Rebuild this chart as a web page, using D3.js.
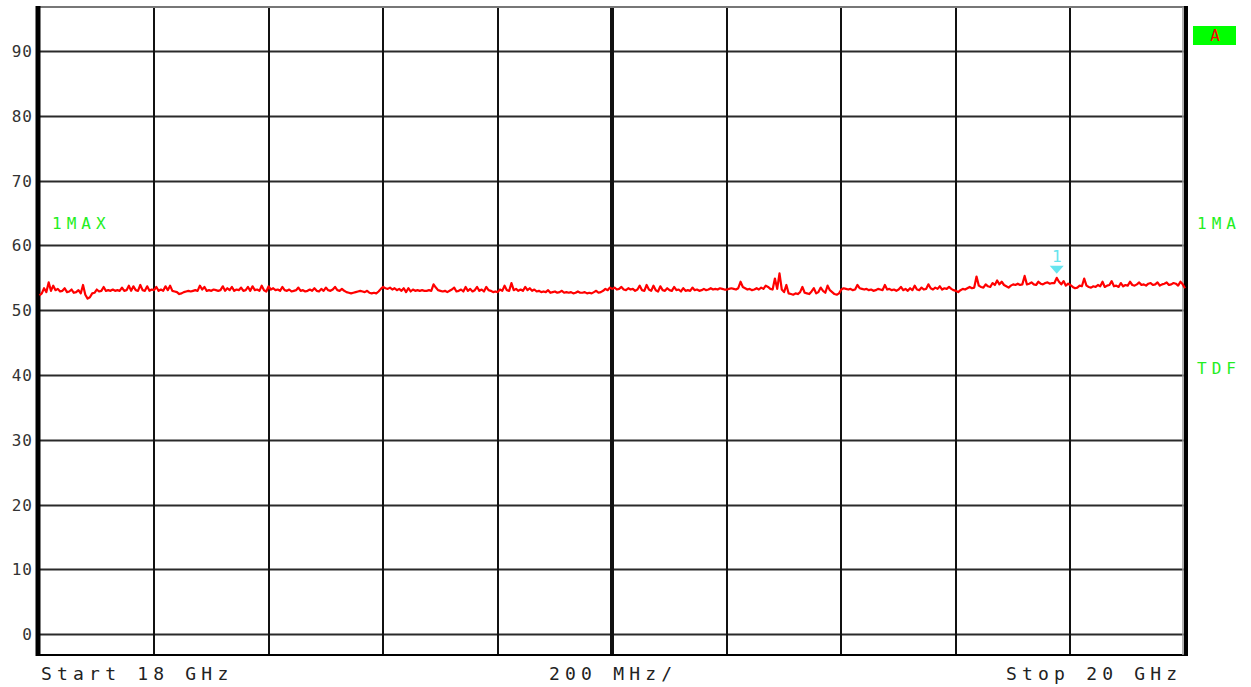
<!DOCTYPE html>
<html><head><meta charset="utf-8">
<script src="https://cdn.jsdelivr.net/npm/d3@7"></script>
<style>
html,body{margin:0;padding:0;background:#fff;}
svg{display:block;}
text{font-family:"DejaVu Sans Mono","Liberation Mono",monospace;}
</style></head>
<body>
<script>
// ---- data ----
const startGHz = 18, stopGHz = 20;
const yTicks = [0,10,20,30,40,50,60,70,80,90];
const xGrid = [18.2,18.4,18.6,18.8,19.0,19.2,19.4,19.6,19.8];
const traceDiv1 = [52.3,52.6,53.4,52.8,54.3,53.0,53.8,53.1,53.3,52.9,53.0,53.4,52.8,52.9,53.2,52.7,52.8,53.1,52.6,53.9,52.4,51.8,52.0,52.6,52.7,53.2,52.9,53.0,53.6,53.0,53.1,53.0,53.2,53.0,53.1,53.0,53.5,53.0,53.1,53.8,53.0,53.7,53.1,53.0,53.9,53.1,53.0,53.7,53.0,53.2];
const traceDiv2 = [53.1,53.6,53.0,53.2,53.0,53.7,53.1,53.8,53.0,52.9,52.8,52.5,52.6,52.8,52.9,53.0,52.9,53.0,53.1,53.0,53.8,53.2,53.6,53.0,53.1,53.0,53.2,53.1,53.0,53.1,53.7,53.0,53.4,53.1,53.6,53.0,53.2,53.1,53.5,53.0,53.1,53.6,53.0,53.7,53.1,53.2,53.0,53.8,53.1,52.9];
const traceDiv3 = [53.7,53.2,53.4,53.1,53.2,53.0,53.6,53.1,53.0,53.2,52.9,53.0,53.1,53.5,53.0,53.1,52.9,53.0,53.2,53.0,53.4,53.0,52.9,53.3,53.0,53.5,53.1,53.0,53.2,53.6,53.1,53.0,53.3,53.0,52.8,52.7,52.6,52.7,52.8,52.9,53.0,52.9,52.8,53.0,52.7,52.6,52.7,52.6,52.9,53.3];
const traceDiv4 = [53.6,53.4,53.3,53.5,53.2,53.4,53.1,53.3,53.0,53.4,52.8,53.4,52.9,53.2,53.0,53.1,53.0,53.1,53.0,53.0,53.1,53.0,54.0,53.5,53.1,53.0,52.9,53.0,52.8,53.0,53.2,53.5,52.9,53.0,53.2,52.9,53.6,53.0,53.3,52.9,53.1,53.6,53.0,53.2,52.9,53.6,53.1,53.0,52.8,52.9];
const traceDiv5 = [52.8,53.2,53.0,53.8,53.1,53.0,54.2,53.1,53.3,53.0,53.2,53.0,53.6,53.1,53.4,53.0,53.2,52.9,53.0,52.8,52.9,52.8,53.1,52.7,52.8,52.9,52.7,52.8,53.0,52.7,52.8,52.7,52.8,52.6,52.7,52.9,52.7,52.7,52.8,52.6,52.7,52.6,52.8,53.0,52.7,52.8,53.0,53.3,53.1,53.5];
const traceDiv6 = [53.3,53.5,53.2,53.3,53.6,53.2,53.1,53.4,53.2,53.3,53.0,53.2,53.8,53.1,53.0,53.9,53.2,53.0,53.8,53.1,52.9,53.7,53.1,53.0,53.4,53.1,53.0,53.6,53.1,53.2,52.9,53.4,53.0,53.1,53.0,53.5,53.1,53.2,53.0,53.1,53.3,53.1,53.2,53.4,53.2,53.3,53.2,53.4,53.3,53.2];
const traceDiv7 = [53.2,53.3,53.4,53.3,53.2,53.4,54.4,53.6,53.4,53.2,53.3,53.1,53.2,53.4,53.2,53.5,53.3,53.8,53.6,53.3,53.2,54.9,53.3,55.7,53.2,52.8,53.9,52.6,52.5,52.4,52.6,52.5,52.8,53.6,52.7,52.6,52.5,52.9,53.4,52.6,52.8,53.5,53.0,52.7,53.8,53.1,52.8,52.5,52.4,52.6];
const traceDiv8 = [53.2,53.4,53.3,53.2,53.3,53.1,53.2,53.9,53.4,53.3,53.2,53.3,53.1,53.2,53.0,53.1,53.3,53.2,53.1,53.9,53.2,53.3,53.1,53.2,53.0,53.2,53.6,53.1,53.3,53.0,53.4,53.1,53.8,53.2,53.1,53.5,53.2,53.3,54.0,53.4,53.2,53.5,53.3,53.7,53.2,53.4,53.3,53.6,53.3,53.1];
const traceDiv9 = [53.0,52.8,53.1,53.3,53.2,53.4,53.6,53.4,53.5,55.2,53.8,53.6,53.5,54.0,53.7,53.6,54.2,53.9,54.6,54.0,54.4,53.9,53.7,53.5,53.8,54.0,53.9,54.1,53.9,54.0,55.3,54.0,54.1,54.3,54.0,53.9,54.4,54.1,54.0,54.2,54.3,54.1,54.2,54.2,55.0,54.4,54.0,54.5,53.8,54.1];
const traceDiv10 = [53.9,53.6,53.4,53.5,53.8,53.7,54.9,53.8,53.6,53.5,53.7,53.6,53.9,53.7,54.4,53.6,53.8,53.9,54.5,53.7,53.8,53.6,54.2,53.7,53.9,53.8,54.4,53.9,53.8,54.0,54.3,53.9,54.0,53.8,54.1,54.2,53.9,54.0,54.3,53.8,54.0,54.1,54.3,53.9,54.0,54.2,54.1,53.8,54.4,54.0,53.4];
const traceValues = [].concat(traceDiv1,traceDiv2,traceDiv3,traceDiv4,traceDiv5,traceDiv6,traceDiv7,traceDiv8,traceDiv9,traceDiv10);
const markerIndex = 444;
const markerLabel = "1";
const leftLabels = ["1MAX"];
const rightLabels = ["1MA","TDF"];
const bottomLabels = ["Start 18 GHz","200 MHz/","Stop 20 GHz"];

// ---- layout ----
const W = 1251, H = 687;
const L = 39.5, R = 1185, T = 7, B = 655;
const svg = d3.select("body").append("svg").attr("width",W).attr("height",H);
const x = d3.scaleLinear().domain([startGHz,stopGHz]).range([L,R]);
const y = d3.scaleLinear().domain([-3.2,96.8]).range([B,T]);
const n = traceValues.length;
const data = traceValues.map((v,i)=>({f: startGHz + i*(stopGHz-startGHz)/(n-1), v}));

// horizontal grid
svg.append("g").selectAll("line").data(yTicks).join("line")
  .attr("x1",L).attr("x2",R).attr("y1",d=>Math.round(y(d))+0.5).attr("y2",d=>Math.round(y(d))+0.5)
  .attr("stroke","#2a2a2a").attr("stroke-width",2);
// vertical grid
svg.append("g").selectAll("line").data(xGrid).join("line")
  .attr("y1",T).attr("y2",B).attr("x1",d=>Math.round(x(d))).attr("x2",d=>Math.round(x(d)))
  .attr("stroke","#111").attr("stroke-width",d=>Math.abs(d-19)<1e-9?4:2);

// frame
svg.append("line").attr("x1",L).attr("x2",R).attr("y1",T).attr("y2",T).attr("stroke","#777").attr("stroke-width",2);
svg.append("line").attr("x1",L).attr("x2",R+3).attr("y1",B).attr("y2",B).attr("stroke","#000").attr("stroke-width",2);
svg.append("line").attr("x1",L-1.5).attr("x2",L-1.5).attr("y1",T-1).attr("y2",B+1).attr("stroke","#000").attr("stroke-width",5);
svg.append("line").attr("x1",R-2).attr("x2",R-2).attr("y1",T).attr("y2",B).attr("stroke","#999").attr("stroke-width",1.5);
svg.append("line").attr("x1",R+1).attr("x2",R+1).attr("y1",T-1).attr("y2",B+1).attr("stroke","#000").attr("stroke-width",4);

// y tick labels
svg.append("g").selectAll("text").data(yTicks).join("text")
  .attr("x",33).attr("y",d=>y(d)+6).attr("text-anchor","end")
  .attr("font-size",16).attr("letter-spacing",1).attr("fill","#333").text(d=>d);

// trace
const line = d3.line().x(d=>x(d.f)).y(d=>y(d.v));
svg.append("path").datum(data).attr("d",line).attr("fill","none")
  .attr("stroke","#ff0000").attr("stroke-width",2.2).attr("stroke-linejoin","round");

// marker
const md = data[markerIndex];
const mx = x(md.f), my = y(md.v);
svg.append("path").attr("d",`M${mx-7},${my-12}L${mx+7},${my-12}L${mx},${my-4}Z`).attr("fill","#66e4ee");
svg.append("text").attr("x",mx).attr("y",my-16).attr("text-anchor","middle")
  .attr("font-size",16).attr("fill","#66e4ee").attr("font-family","Liberation Sans,sans-serif").text(markerLabel);

// labels
const green = "#22ee22";
svg.append("text").attr("x",52).attr("y",229).attr("font-size",16).attr("letter-spacing",5).attr("fill",green).text(leftLabels[0]);
svg.append("text").attr("x",1197).attr("y",229).attr("font-size",16).attr("letter-spacing",5).attr("fill",green).text(rightLabels[0]);
svg.append("text").attr("x",1197).attr("y",374).attr("font-size",16).attr("letter-spacing",5).attr("fill",green).text(rightLabels[1]);
svg.append("rect").attr("x",1193).attr("y",26).attr("width",43).attr("height",19).attr("fill","#00ff00");
svg.append("text").attr("x",1215).attr("y",41).attr("text-anchor","middle").attr("font-size",16).attr("fill","#ff0000").text("A");

// bottom labels
const bl = svg.append("g").attr("font-size",18).attr("letter-spacing",5.2).attr("fill","#222");
bl.append("text").attr("x",41).attr("y",680).text(bottomLabels[0]);
bl.append("text").attr("x",549).attr("y",680).text(bottomLabels[1]);
bl.append("text").attr("x",1006).attr("y",680).text(bottomLabels[2]);
</script>
</body></html>
